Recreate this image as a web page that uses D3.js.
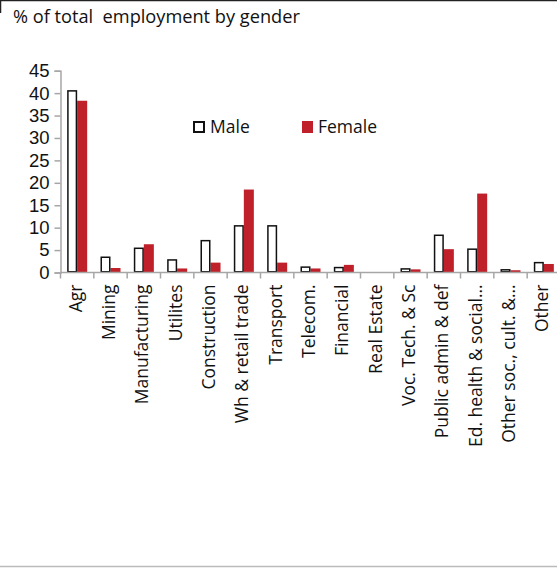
<!DOCTYPE html>
<html><head><meta charset="utf-8">
<script src="https://cdn.jsdelivr.net/npm/d3@7"></script>
<style>body{margin:0;background:#fff}svg{display:block}text{font-family:"Open Sans",sans-serif}</style>
</head><body><svg id="c" width="557" height="568"></svg>
<script>
const categories = ["Agr","Mining","Manufacturing","Utilites","Construction","Wh & retail trade","Transport","Telecom.","Financial","Real Estate","Voc. Tech. & Sc","Public admin & def","Ed. health & social…","Other soc., cult. &…","Other"];
const male =   [40.5, 3.4, 5.4, 2.8, 7.1, 10.4, 10.4, 1.2, 1.1, 0.15, 0.8, 8.3, 5.2, 0.6, 2.2];
const female = [38.3, 1.0, 6.3, 0.9, 2.2, 18.5, 2.2, 0.9, 1.7, 0.05, 0.7, 5.2, 17.6, 0.5, 1.9];
const yTicks = [0,5,10,15,20,25,30,35,40,45];
const seriesNames = ["Male","Female"];
const title = "% of total  employment by gender";

const svg = d3.select("#c");
const data = categories.map((c,i)=>({cat:c, Male:male[i], Female:female[i]}));

// frame lines
svg.append("line").attr("x1",0).attr("x2",557).attr("y1",0.5).attr("y2",0.5).attr("stroke","#222").attr("stroke-width",1.5);
svg.append("line").attr("x1",0.5).attr("x2",0.5).attr("y1",0).attr("y2",13).attr("stroke","#222").attr("stroke-width",1.5);
svg.append("line").attr("x1",0).attr("x2",557).attr("y1",566.5).attr("y2",566.5).attr("stroke","#bbb").attr("stroke-width",1.5);

svg.append("text").attr("x",13).attr("y",23).attr("font-size",18.2).attr("fill","#111").style("white-space","pre").text(title);

const x = d3.scaleBand().domain(categories).range([60.5,560.5]).paddingInner(0).paddingOuter(0);
const x1 = d3.scaleBand().domain(seriesNames).range([0,x.bandwidth()]).paddingInner(0).paddingOuter(0.665);
const y = d3.scaleLinear().domain([0,45]).range([272.5,70.7]);

// y axis
const ya = svg.append("g").attr("transform","translate(60.5,0)")
  .call(d3.axisLeft(y).tickValues(yTicks).tickSize(6).tickPadding(5));
ya.select(".domain").attr("stroke","#a6a6a6").attr("stroke-width",1.5);
ya.selectAll(".tick line").attr("stroke","#a6a6a6").attr("stroke-width",1.5);
ya.selectAll(".tick text").attr("font-size",18.5).attr("fill","#111").style("font-family","'Liberation Sans', Arial, sans-serif");

// bars
const g = svg.append("g");
const grp = g.selectAll("g.cat").data(data).join("g").attr("transform",d=>`translate(${x(d.cat)},0)`);
grp.append("rect").attr("x",x1("Female")).attr("width",x1.bandwidth())
  .attr("y",d=>y(d.Female)).attr("height",d=>y(0)-y(d.Female)).attr("fill","#c0202a");
grp.append("rect").attr("x",x1("Male")+0.75).attr("width",x1.bandwidth()-1.5)
  .attr("y",d=>y(d.Male)).attr("height",d=>Math.max(0,y(0)-y(d.Male)-0.75)).attr("fill","#fff").attr("stroke","#111").attr("stroke-width",1.5);

// x axis
const xa = svg.append("g").attr("transform","translate(0,272.5)");
xa.append("line").attr("x1",60.5).attr("x2",560.5).attr("stroke","#a6a6a6").attr("stroke-width",1.5);
const edges = categories.map(c=>x(c));
xa.selectAll("line.tk").data(edges).join("line").attr("class","tk").attr("x1",d=>d).attr("x2",d=>d).attr("y1",0).attr("y2",6).attr("stroke","#a6a6a6").attr("stroke-width",1.5);
xa.selectAll("text").data(categories).join("text")
  .attr("transform",d=>`translate(${x(d)+x.bandwidth()/2+4.5},12) rotate(-90)`)
  .attr("text-anchor","end").attr("font-size",17.5).attr("fill","#111").text(d=>d);

// legend
const lg = svg.append("g");
lg.append("rect").attr("x",194).attr("y",122).attr("width",10).attr("height",10).attr("fill","#fff").attr("stroke","#111").attr("stroke-width",2);
lg.append("text").attr("x",210).attr("y",133).attr("font-size",17.5).attr("fill","#111").text(seriesNames[0]);
lg.append("rect").attr("x",302).attr("y",121).attr("width",11).attr("height",12).attr("fill","#c0202a");
lg.append("text").attr("x",318).attr("y",133).attr("font-size",17.5).attr("fill","#111").text(seriesNames[1]);
</script></body></html>
